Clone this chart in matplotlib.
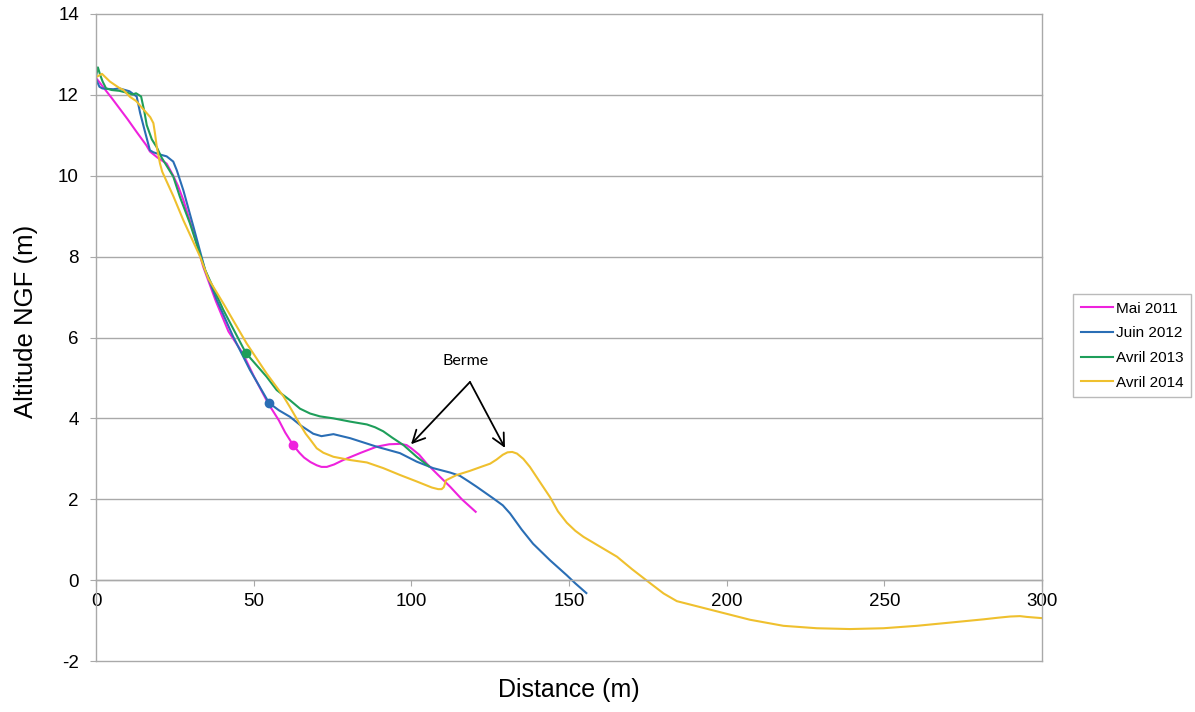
import matplotlib
matplotlib.use("Agg")
import matplotlib.pyplot as plt

plt.rcParams["font.family"] = ["Liberation Sans", "DejaVu Sans"]
plt.rcParams["axes.unicode_minus"] = False

# profils de plage
mai_2011_x = [0, 2, 5, 7.6, 10, 13, 16, 17.1, 19.5, 22.4, 24.5, 26, 27.7, 30.9, 34,
              38, 42, 46.6, 50, 54.6, 58, 60, 62.6, 64.5, 66, 68, 70, 71.5, 73.2,
              75.5, 78.4, 84, 89, 93, 96.4, 98.5, 100, 102.5, 104.9, 108.5, 112.3,
              116, 120.4]
mai_2011_y = [12.42, 12.22, 11.92, 11.65, 11.4, 11.07, 10.75, 10.6, 10.45, 10.3,
              10.0, 9.75, 9.4, 8.6, 7.75, 6.9, 6.15, 5.6, 5.05, 4.37, 3.95, 3.65,
              3.33, 3.15, 3.03, 2.92, 2.84, 2.8, 2.8, 2.86, 2.97, 3.15, 3.3, 3.36,
              3.37, 3.34, 3.26, 3.1, 2.88, 2.6, 2.31, 2.0, 1.69]

juin_2012_x = [0, 0.5, 1.1, 2, 3.2, 5.5, 7.4, 10.6, 12.9, 14, 15.5, 17.1, 18.2, 20.5,
               22.4, 24.5, 25.6, 27.7, 30.9, 34.6, 38.3, 43.5, 48.8, 54.9, 58,
               61.5, 65, 68.9, 71.5, 75.3, 80.6, 85, 89, 96.4, 101.7, 106.9, 112.3,
               115.4, 118, 120.7, 126, 129, 131.3, 135, 138.6, 144, 149.3, 152,
               155.5]
juin_2012_y = [12.4, 12.3, 12.2, 12.16, 12.15, 12.14, 12.16, 12.09, 11.96, 11.55,
               11.1, 10.63, 10.58, 10.52, 10.48, 10.35, 10.14, 9.64, 8.74, 7.67,
               6.93, 6.02, 5.2, 4.38, 4.2, 4.04, 3.82, 3.62, 3.56, 3.61, 3.51, 3.4,
               3.3, 3.14, 2.93, 2.77, 2.66, 2.58, 2.45, 2.31, 2.02, 1.85, 1.65,
               1.25, 0.9, 0.49, 0.12, -0.08, -0.32]

avril_2013_x = [0, 0.6, 1.3, 2.1, 3.2, 5, 7.4, 10, 11.6, 12.7, 14.3, 15.3, 16.1,
                17.7, 19.3, 20.8, 24.5, 26.6, 29.8, 34.6, 40.4, 47.5, 54.1, 57.3,
                61.5, 64.7, 67.9, 71, 75.3, 80.6, 85.9, 88.5, 91.1, 94, 97.5,
                101.7, 105.5]
avril_2013_y = [12.45, 12.68, 12.5, 12.33, 12.16, 12.12, 12.1, 12.05, 12.01, 12.04,
                11.96, 11.6, 11.25, 10.9, 10.7, 10.45, 9.98, 9.48, 8.82, 7.67, 6.68,
                5.62, 5.03, 4.7, 4.45, 4.24, 4.12, 4.05, 4.0, 3.92, 3.85, 3.78, 3.68,
                3.52, 3.34, 3.05, 2.82]

avril_2014_x = [0.3, 1.9, 4.4, 7.4, 8.7, 10.8, 12.7, 15.5, 17.2, 18.2, 18.7, 19.3,
                20.3, 21, 24.5, 27.7, 33, 35.6, 40.4, 47.8, 54.1, 59.4, 61.5, 64.7,
                66.5, 67.9, 70, 72.1, 75.3, 80.6, 85.9, 91.1, 96.4, 101.7, 106.5,
                108.5, 109.6, 110.3, 111, 114.4, 118.5, 122.8, 125, 127, 129,
                130.5, 132, 133.5, 135.5, 137.6, 141, 144, 146.5, 149.3, 152, 154.6,
                160, 165.2, 170, 175.8, 180, 184.2, 196.8, 207.4, 218, 228.6, 239.1,
                249.7, 260.3, 270.9, 281.4, 286, 289.9, 293, 295.2, 300]
avril_2014_y = [12.45, 12.52, 12.33, 12.17, 12.12, 11.95, 11.85, 11.6, 11.45, 11.3,
                11.05, 10.7, 10.3, 10.1, 9.5, 8.9, 8.0, 7.46, 6.84, 5.85, 5.11, 4.55,
                4.28, 3.85, 3.62, 3.48, 3.26, 3.15, 3.05, 2.97, 2.91, 2.77, 2.6,
                2.44, 2.29, 2.25, 2.25, 2.3, 2.47, 2.6, 2.7, 2.82, 2.88, 2.98, 3.1,
                3.16, 3.17, 3.13, 3.0, 2.8, 2.4, 2.05, 1.7, 1.42, 1.22, 1.07, 0.82,
                0.58, 0.27, -0.08, -0.33, -0.52, -0.77, -0.98, -1.13, -1.19, -1.21,
                -1.19, -1.13, -1.05, -0.97, -0.93, -0.9, -0.89, -0.91, -0.94]

# points repères (pied de dune)
mai_2011_pt = (62.6, 3.33)
juin_2012_pt = (54.9, 4.38)
avril_2013_pt = (47.5, 5.62)

series = [
    ("Mai 2011", mai_2011_x, mai_2011_y, "#EE22DD", mai_2011_pt),
    ("Juin 2012", juin_2012_x, juin_2012_y, "#2A6EB5", juin_2012_pt),
    ("Avril 2013", avril_2013_x, avril_2013_y, "#1E9E5A", avril_2013_pt),
    ("Avril 2014", avril_2014_x, avril_2014_y, "#EFC02E", None),
]

x_ticks = [0, 50, 100, 150, 200, 250, 300]
y_ticks = [-2, 0, 2, 4, 6, 8, 10, 12, 14]

grey = "#A9A9A9"

fig = plt.figure(figsize=(11.95, 7.12), dpi=100)
ax = fig.add_axes([96 / 1195, 51 / 712, 946 / 1195, 647 / 712])

for label, xs, ys, color, pt in series:
    ax.plot(xs, ys, color=color, lw=1.5, label=label)
    if pt is not None:
        ax.plot(pt[0], pt[1], "o", color=color, ms=6, zorder=4)

ax.set_xlim(0, 300)
ax.set_ylim(-2, 14)
ax.set_xticks(x_ticks)
ax.set_yticks(y_ticks)

ax.yaxis.grid(True, color=grey, lw=1)
for gl in ax.get_ygridlines():
    gl.set_clip_on(False)
ax.set_axisbelow(True)
ax.spines["top"].set_visible(False)
ax.spines["bottom"].set_position(("data", 0))
for side in ["left", "right", "bottom"]:
    ax.spines[side].set_color(grey)
    ax.spines[side].set_linewidth(1)

ax.tick_params(axis="both", direction="out", length=4.3, color=grey, labelsize=13.5)
ax.tick_params(axis="x", pad=5)
ax.tick_params(axis="y", pad=8)

ax.set_xlabel("Distance (m)", fontsize=18)
ax.xaxis.set_label_coords(0.5, -0.026)
ax.set_ylabel("Altitude NGF (m)", fontsize=18.5)
ax.yaxis.set_label_coords(-0.061, 0.5255)

# annotation berme
ax.text(117.3, 5.42, "Berme", family=["Lato", "DejaVu Sans"], fontsize=11.5,
        ha="center", va="center")
for tip in [(99.9, 3.36), (129.7, 3.27)]:
    ax.annotate("", xy=tip, xytext=(118.6, 4.9),
                arrowprops=dict(arrowstyle="->", color="black", lw=1.3,
                                mutation_scale=22, shrinkA=0, shrinkB=0))

leg = ax.legend(loc="center left", bbox_to_anchor=(1073 / 1195, 0.5145),
                bbox_transform=fig.transFigure, fontsize=11, frameon=True,
                fancybox=False, handlelength=2.1, handletextpad=0.2,
                labelspacing=0.7, borderpad=0.5, borderaxespad=0)
leg.get_frame().set_edgecolor(grey)
leg.get_frame().set_linewidth(1)

fig.savefig("out.png", dpi=100)
